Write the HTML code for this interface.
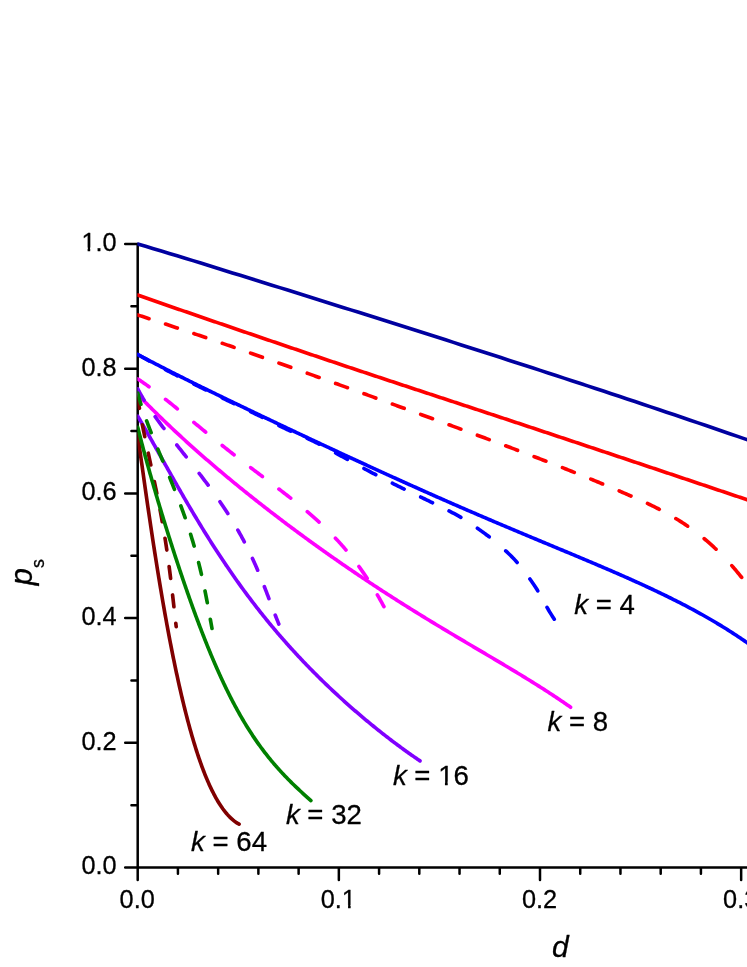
<!DOCTYPE html>
<html lang="en"><head><meta charset="utf-8"><title>p_s vs d</title>
<style>html,body{margin:0;padding:0;background:#fff;}body{width:747px;height:967px;position:relative;overflow:hidden;font-family:"Liberation Sans",sans-serif;}</style></head>
<body>
<svg width="747" height="967" viewBox="0 0 747 967" style="position:absolute;left:0;top:0;will-change:transform">
<defs><clipPath id="c"><rect x="137.40" y="0" width="747" height="967"/></clipPath></defs>
<path d="M137.7,244.00 L137.7,867.5 M137.7,867.5 L752,867.5 M137.7,867.50 h-12.5 M137.7,805.15 h-6.25 M137.7,742.80 h-12.5 M137.7,680.45 h-6.25 M137.7,618.10 h-12.5 M137.7,555.75 h-6.25 M137.7,493.40 h-12.5 M137.7,431.05 h-6.25 M137.7,368.70 h-12.5 M137.7,306.35 h-6.25 M137.7,244.00 h-12.5 M137.70,867.5 v12.5 M177.93,867.5 v6.25 M218.16,867.5 v6.25 M258.39,867.5 v6.25 M298.62,867.5 v6.25 M338.85,867.5 v12.5 M379.08,867.5 v6.25 M419.31,867.5 v6.25 M459.54,867.5 v6.25 M499.77,867.5 v6.25 M540.00,867.5 v12.5 M580.23,867.5 v6.25 M620.46,867.5 v6.25 M660.69,867.5 v6.25 M700.92,867.5 v6.25 M741.15,867.5 v12.5 M781.38,867.5 v6.25" fill="none" stroke="#000" stroke-width="2.5" stroke-linecap="round"/>
<g clip-path="url(#c)" fill="none" stroke-linecap="round" stroke-linejoin="round" stroke-width="3.65">
<path d="M137.70,244.00 L145.59,246.35 L153.49,248.70 L161.38,251.05 L169.27,253.40 L177.17,255.74 L185.06,258.18 L192.95,260.63 L200.85,263.08 L208.74,265.53 L216.63,267.98 L224.53,270.43 L232.42,272.89 L240.31,275.34 L248.21,277.80 L256.10,280.25 L263.99,282.71 L271.88,285.17 L279.78,287.63 L287.67,290.09 L295.56,292.56 L303.46,295.03 L311.35,297.49 L319.24,299.97 L327.14,302.44 L335.03,304.91 L342.92,307.39 L350.82,309.87 L358.71,312.35 L366.60,314.84 L374.50,317.33 L382.39,319.82 L390.28,322.31 L398.18,324.81 L406.07,327.31 L413.96,329.81 L421.86,332.32 L429.75,334.83 L437.64,337.34 L445.54,339.86 L453.43,342.38 L461.32,344.90 L469.22,347.43 L477.11,349.96 L485.00,352.50 L492.90,355.04 L500.79,357.59 L508.68,360.14 L516.57,362.69 L524.47,365.25 L532.36,367.81 L540.25,370.38 L548.15,372.95 L556.04,375.53 L563.93,378.11 L571.83,380.70 L579.72,383.29 L587.61,385.89 L595.51,388.49 L603.40,391.10 L611.29,393.72 L619.19,396.34 L627.08,398.96 L634.97,401.60 L642.87,404.23 L650.76,406.88 L658.65,409.53 L666.55,412.18 L674.44,414.85 L682.33,417.52 L690.23,420.19 L698.12,422.88 L706.01,425.56 L713.91,428.26 L721.80,430.96 L729.69,433.67 L737.59,436.39 L745.48,439.12 L753.37,441.85 L761.26,444.59" stroke="#0000a0"/>
<path d="M137.70,295.10 L139.12,295.59 L140.54,296.09 L141.97,296.58 L143.39,297.08 L144.81,297.57 L146.23,298.07 L147.66,298.56 L149.08,299.05 L150.50,299.55 L151.92,300.04 L153.35,300.53 L154.77,301.03 L156.19,301.52 L157.61,302.01 L159.04,302.51 L160.46,303.00 L161.88,303.49 L163.31,303.98 L164.73,304.48 L166.15,304.97 L167.57,305.46 L169.00,305.95 L170.42,306.45 L171.84,306.94 L173.27,307.43 L174.69,307.92 L176.11,308.41 L177.54,308.91 L178.96,309.40 L180.38,309.89 L181.80,310.38 L183.23,310.87 L184.65,311.36 L186.07,311.85 L187.50,312.34 L188.92,312.84 L190.35,313.33 L191.77,313.82 L193.19,314.31 L194.62,314.80 L196.04,315.29 L197.46,315.78 L198.89,316.27 L200.31,316.76 L201.73,317.25 L203.16,317.74 L204.58,318.23 L206.01,318.72 L207.43,319.21 L208.85,319.70 L210.28,320.19 L211.70,320.67 L213.13,321.16 L214.55,321.65 L215.97,322.14 L217.40,322.63 L218.82,323.12 L220.25,323.61 L221.67,324.10 L223.09,324.58 L224.52,325.07 L225.94,325.56 L227.37,326.05 L228.79,326.54 L230.22,327.02 L231.64,327.51 L233.07,328.00 L234.49,328.49 L235.91,328.97 L237.34,329.46 L238.76,329.95 L240.19,330.44 L241.61,330.92 L243.04,331.41 L244.46,331.90 L245.89,332.38 L247.31,332.87 L248.74,333.36 L250.16,333.84 L251.59,334.33 L253.01,334.81 L254.44,335.30 L255.86,335.79 L257.29,336.27 L258.71,336.76 L260.14,337.24 L261.56,337.73 L262.99,338.21 L264.41,338.70 L265.84,339.19 L267.26,339.67 L268.69,340.16 L270.12,340.64 L271.54,341.12 L272.97,341.61 L274.39,342.09 L275.82,342.58 L277.24,343.06 L278.67,343.55 L280.09,344.03 L281.52,344.51 L282.95,345.00 L284.37,345.48 L285.80,345.97 L287.22,346.45 L288.65,346.93 L290.08,347.42 L291.50,347.90 L292.93,348.38 L294.35,348.87 L295.78,349.35 L297.21,349.83 L298.63,350.31 L300.06,350.80 L301.48,351.28 L302.91,351.76 L304.34,352.24 L305.76,352.73 L307.19,353.21 L308.62,353.69 L310.04,354.17 L311.47,354.65 L312.90,355.13 L314.32,355.62 L315.75,356.10 L317.18,356.58 L318.60,357.06 L320.03,357.54 L321.46,358.02 L322.88,358.50 L324.31,358.98 L325.74,359.46 L327.16,359.94 L328.59,360.43 L330.02,360.91 L331.44,361.39 L332.87,361.87 L334.30,362.35 L335.72,362.82 L337.15,363.30 L338.58,363.78 L340.01,364.26 L341.43,364.74 L342.86,365.22 L344.29,365.70 L345.72,366.17 L347.15,366.65 L348.57,367.13 L350.00,367.61 L351.43,368.08 L352.86,368.56 L354.29,369.04 L355.71,369.51 L357.14,369.99 L358.57,370.47 L360.00,370.94 L361.43,371.42 L362.86,371.89 L364.28,372.37 L365.71,372.84 L367.14,373.32 L368.57,373.80 L370.00,374.27 L371.43,374.74 L372.86,375.22 L374.29,375.69 L375.71,376.17 L377.14,376.64 L378.57,377.12 L380.00,377.59 L381.43,378.06 L382.86,378.54 L384.29,379.01 L385.72,379.48 L387.15,379.96 L388.58,380.43 L390.01,380.90 L391.44,381.38 L392.87,381.85 L394.30,382.32 L395.73,382.79 L397.15,383.27 L398.58,383.74 L400.01,384.21 L401.44,384.68 L402.87,385.15 L404.30,385.63 L405.73,386.10 L407.16,386.57 L408.59,387.04 L410.02,387.51 L411.45,387.98 L412.88,388.46 L414.31,388.93 L415.74,389.40 L417.17,389.87 L418.60,390.34 L420.03,390.81 L421.46,391.28 L422.89,391.75 L424.32,392.23 L425.75,392.70 L427.18,393.17 L428.61,393.64 L430.04,394.11 L431.47,394.58 L432.90,395.05 L434.33,395.52 L435.76,395.99 L437.19,396.46 L438.63,396.93 L440.06,397.40 L441.49,397.87 L442.92,398.34 L444.35,398.82 L445.78,399.29 L447.21,399.76 L448.64,400.23 L450.07,400.70 L451.50,401.17 L452.93,401.64 L454.36,402.11 L455.79,402.58 L457.22,403.05 L458.65,403.52 L460.08,403.99 L461.51,404.46 L462.94,404.93 L464.37,405.40 L465.80,405.88 L467.23,406.35 L468.66,406.82 L470.09,407.29 L471.52,407.76 L472.95,408.23 L474.38,408.70 L475.81,409.17 L477.24,409.64 L478.67,410.11 L480.10,410.59 L481.53,411.06 L482.96,411.53 L484.39,412.00 L485.82,412.47 L487.25,412.94 L488.68,413.42 L490.11,413.89 L491.54,414.36 L492.97,414.83 L494.40,415.30 L495.83,415.78 L497.26,416.25 L498.69,416.72 L500.12,417.19 L501.55,417.66 L502.98,418.14 L504.41,418.61 L505.84,419.08 L507.27,419.56 L508.69,420.03 L510.12,420.50 L511.55,420.98 L512.98,421.45 L514.41,421.92 L515.84,422.40 L517.27,422.87 L518.70,423.35 L520.13,423.82 L521.56,424.29 L522.99,424.77 L524.42,425.24 L525.84,425.72 L527.27,426.19 L528.70,426.67 L530.13,427.14 L531.56,427.62 L532.99,428.09 L534.42,428.57 L535.84,429.04 L537.27,429.52 L538.70,430.00 L540.13,430.47 L541.56,430.95 L542.99,431.42 L544.42,431.90 L545.84,432.37 L547.27,432.85 L548.70,433.32 L550.13,433.80 L551.56,434.28 L552.99,434.75 L554.42,435.23 L555.84,435.70 L557.27,436.18 L558.70,436.65 L560.13,437.13 L561.56,437.61 L562.99,438.08 L564.42,438.56 L565.84,439.03 L567.27,439.51 L568.70,439.99 L570.13,440.46 L571.56,440.94 L572.99,441.41 L574.41,441.89 L575.84,442.37 L577.27,442.84 L578.70,443.32 L580.13,443.79 L581.56,444.27 L582.98,444.75 L584.41,445.22 L585.84,445.70 L587.27,446.18 L588.70,446.65 L590.13,447.13 L591.55,447.61 L592.98,448.08 L594.41,448.56 L595.84,449.03 L597.27,449.51 L598.70,449.99 L600.12,450.46 L601.55,450.94 L602.98,451.42 L604.41,451.89 L605.84,452.37 L607.27,452.85 L608.69,453.32 L610.12,453.80 L611.55,454.28 L612.98,454.75 L614.41,455.23 L615.83,455.71 L617.26,456.19 L618.69,456.66 L620.12,457.14 L621.55,457.62 L622.97,458.09 L624.40,458.57 L625.83,459.05 L627.26,459.52 L628.69,460.00 L630.11,460.48 L631.54,460.96 L632.97,461.43 L634.40,461.91 L635.83,462.39 L637.25,462.87 L638.68,463.34 L640.11,463.82 L641.54,464.30 L642.97,464.78 L644.39,465.25 L645.82,465.73 L647.25,466.21 L648.68,466.69 L650.11,467.16 L651.53,467.64 L652.96,468.12 L654.39,468.60 L655.82,469.08 L657.24,469.55 L658.67,470.03 L660.10,470.51 L661.53,470.99 L662.96,471.47 L664.38,471.94 L665.81,472.42 L667.24,472.90 L668.67,473.38 L670.09,473.86 L671.52,474.34 L672.95,474.81 L674.38,475.29 L675.80,475.77 L677.23,476.25 L678.66,476.73 L680.09,477.21 L681.51,477.69 L682.94,478.16 L684.37,478.64 L685.80,479.12 L687.22,479.60 L688.65,480.08 L690.08,480.56 L691.51,481.04 L692.93,481.52 L694.36,482.00 L695.79,482.47 L697.22,482.95 L698.64,483.43 L700.07,483.91 L701.50,484.39 L702.93,484.87 L704.35,485.35 L705.78,485.83 L707.21,486.31 L708.64,486.79 L710.06,487.27 L711.49,487.75 L712.92,488.23 L714.34,488.71 L715.77,489.19 L717.20,489.67 L718.63,490.15 L720.05,490.63 L721.48,491.11 L722.91,491.59 L724.33,492.07 L725.76,492.55 L727.19,493.03 L728.61,493.51 L730.04,493.99 L731.47,494.47 L732.90,494.95 L734.32,495.43 L735.75,495.91 L737.18,496.39 L738.60,496.87 L740.03,497.35 L741.46,497.83 L742.88,498.31 L744.31,498.79 L745.74,499.27 L747.16,499.76 L748.59,500.24 L750.02,500.72 L751.44,501.20 L752.87,501.68 L754.30,502.17 L755.72,502.65 L757.15,503.13 L758.57,503.62 L760.00,504.10" stroke="#ff0000"/>
<path d="M137.70,314.96 L139.13,315.42 L140.56,315.89 L141.99,316.35 L143.42,316.82 L144.85,317.28 L146.28,317.75 L147.71,318.22 L149.00,318.64 M165.55,324.09 L166.29,324.34 L167.72,324.81 L169.14,325.29 L170.57,325.76 L172.00,326.24 L173.43,326.71 L174.85,327.19 L176.28,327.66 L177.35,328.02 M193.90,333.59 L194.81,333.90 L196.24,334.39 L197.66,334.87 L199.09,335.35 L200.51,335.84 L201.94,336.32 L203.36,336.81 L204.78,337.29 L205.70,337.60 M222.25,343.28 L223.28,343.64 L224.71,344.13 L226.13,344.62 L227.55,345.11 L228.97,345.60 L230.39,346.09 L231.82,346.58 L233.24,347.08 L234.05,347.36 M250.60,353.13 L251.70,353.51 L253.12,354.01 L254.54,354.51 L255.96,355.01 L257.38,355.50 L258.80,356.00 L260.22,356.50 L261.64,357.00 L262.40,357.27 M278.95,363.11 L280.08,363.51 L281.50,364.02 L282.92,364.52 L284.33,365.02 L285.75,365.53 L287.17,366.03 L288.59,366.54 L290.00,367.04 L290.75,367.31 M307.30,373.22 L308.42,373.62 L309.84,374.13 L311.25,374.64 L312.67,375.14 L314.08,375.65 L315.50,376.16 L316.92,376.67 L318.33,377.18 L319.10,377.46 M335.65,383.42 L336.73,383.81 L338.14,384.32 L339.56,384.84 L340.97,385.35 L342.39,385.86 L343.80,386.37 L345.22,386.88 L346.63,387.40 L347.45,387.69 M364.00,393.70 L365.01,394.07 L366.43,394.58 L367.84,395.10 L369.25,395.61 L370.67,396.13 L372.08,396.64 L373.50,397.16 L374.91,397.67 L375.80,398.00 M392.35,404.03 L393.28,404.37 L394.69,404.89 L396.11,405.41 L397.52,405.92 L398.93,406.44 L400.35,406.95 L401.76,407.47 L403.17,407.99 L404.15,408.34 M420.70,414.40 L421.54,414.70 L422.95,415.22 L424.36,415.74 L425.78,416.26 L427.19,416.77 L428.60,417.29 L430.02,417.81 L431.43,418.32 L432.50,418.72 M449.05,424.78 L449.79,425.05 L451.20,425.57 L452.62,426.09 L454.03,426.61 L455.44,427.13 L456.85,427.64 L458.26,428.16 L459.68,428.68 L460.85,429.11 M477.40,435.22 L478.02,435.45 L479.43,435.98 L480.84,436.50 L482.26,437.02 L483.67,437.55 L485.08,438.07 L486.49,438.59 L487.90,439.12 L489.20,439.61 M505.75,445.80 L506.21,445.98 L507.62,446.51 L509.03,447.04 L510.43,447.57 L511.84,448.10 L513.25,448.63 L514.66,449.16 L516.06,449.70 L517.47,450.23 L517.55,450.26 M534.10,456.59 L534.33,456.68 L535.73,457.22 L537.14,457.76 L538.54,458.30 L539.94,458.84 L541.35,459.39 L542.75,459.93 L544.15,460.48 L545.55,461.02 L545.90,461.16 M562.45,467.66 L563.76,468.17 L565.15,468.73 L566.55,469.29 L567.95,469.84 L569.35,470.40 L570.74,470.96 L572.14,471.52 L573.54,472.08 L574.25,472.36 M590.80,479.08 L591.66,479.43 L593.05,480.00 L594.44,480.58 L595.83,481.15 L597.22,481.73 L598.61,482.30 L600.00,482.88 L601.39,483.45 L602.60,483.96 M619.15,490.93 L619.41,491.05 L620.80,491.64 L622.18,492.23 L623.56,492.82 L624.95,493.42 L626.33,494.01 L627.71,494.61 L629.09,495.20 L630.47,495.80 L630.95,496.01 M647.50,503.48 L648.29,503.86 L649.65,504.50 L651.00,505.15 L652.36,505.81 L653.71,506.48 L655.05,507.14 L656.40,507.82 L657.74,508.50 L659.08,509.19 L659.30,509.30 M675.85,518.55 L676.15,518.72 L677.43,519.51 L678.71,520.30 L679.98,521.10 L681.25,521.91 L682.52,522.73 L683.77,523.55 L685.03,524.38 L686.27,525.22 L687.52,526.07 L687.65,526.16 M704.20,538.68 L704.31,538.77 L705.46,539.74 L706.61,540.71 L707.75,541.69 L708.89,542.68 L710.01,543.67 L711.14,544.68 L712.25,545.69 L713.36,546.70 L714.46,547.73 L715.56,548.76 L716.00,549.17 M731.80,565.61 L732.23,566.10 L733.22,567.24 L734.20,568.38 L735.18,569.52 L736.15,570.67 L737.11,571.83 L738.07,572.99 L739.02,574.15 L739.97,575.32 L740.91,576.49 L741.64,577.41" stroke="#ff0000"/>
<path d="M137.70,354.50 L139.03,355.21 L140.36,355.91 L141.69,356.62 L143.02,357.32 L144.35,358.03 L145.68,358.73 L147.01,359.43 L148.34,360.13 L149.68,360.82 L151.01,361.52 L152.34,362.22 L153.68,362.91 L155.01,363.60 L156.35,364.29 L157.69,364.99 L159.02,365.67 L160.36,366.36 L161.70,367.05 L163.04,367.74 L164.38,368.42 L165.72,369.11 L167.06,369.79 L168.40,370.47 L169.74,371.15 L171.08,371.84 L172.43,372.52 L173.77,373.19 L175.11,373.87 L176.46,374.55 L177.80,375.23 L179.15,375.90 L180.49,376.58 L181.84,377.25 L183.18,377.92 L184.53,378.60 L185.87,379.27 L187.22,379.94 L188.57,380.61 L189.92,381.28 L191.26,381.95 L192.61,382.61 L193.96,383.28 L195.31,383.95 L196.66,384.61 L198.01,385.28 L199.36,385.95 L200.71,386.61 L202.06,387.27 L203.41,387.94 L204.76,388.60 L206.11,389.26 L207.46,389.92 L208.81,390.58 L210.17,391.24 L211.52,391.90 L212.87,392.56 L214.22,393.22 L215.58,393.88 L216.93,394.54 L218.28,395.20 L219.64,395.85 L220.99,396.51 L222.35,397.17 L223.70,397.82 L225.05,398.48 L226.41,399.13 L227.76,399.79 L229.12,400.44 L230.47,401.09 L231.83,401.75 L233.19,402.40 L234.54,403.05 L235.90,403.71 L237.25,404.36 L238.61,405.01 L239.97,405.66 L241.32,406.31 L242.68,406.96 L244.04,407.61 L245.39,408.26 L246.75,408.91 L248.11,409.56 L249.47,410.21 L250.82,410.86 L252.18,411.51 L253.54,412.16 L254.90,412.80 L256.26,413.45 L257.61,414.10 L258.97,414.75 L260.33,415.39 L261.69,416.04 L263.05,416.69 L264.41,417.33 L265.77,417.98 L267.12,418.63 L268.48,419.27 L269.84,419.92 L271.20,420.56 L272.56,421.21 L273.92,421.85 L275.28,422.50 L276.64,423.14 L278.00,423.78 L279.36,424.43 L280.72,425.07 L282.08,425.71 L283.44,426.36 L284.80,427.00 L286.16,427.64 L287.52,428.28 L288.88,428.93 L290.25,429.57 L291.61,430.21 L292.97,430.85 L294.33,431.49 L295.69,432.14 L297.05,432.78 L298.41,433.42 L299.77,434.06 L301.14,434.70 L302.50,435.34 L303.86,435.98 L305.22,436.62 L306.58,437.26 L307.95,437.90 L309.31,438.54 L310.67,439.17 L312.03,439.81 L313.39,440.45 L314.76,441.09 L316.12,441.73 L317.48,442.37 L318.85,443.00 L320.21,443.64 L321.57,444.28 L322.94,444.92 L324.30,445.55 L325.66,446.19 L327.03,446.82 L328.39,447.46 L329.75,448.10 L331.12,448.73 L332.48,449.37 L333.85,450.00 L335.21,450.64 L336.57,451.27 L337.94,451.91 L339.30,452.54 L340.67,453.17 L342.03,453.81 L343.40,454.44 L344.76,455.07 L346.13,455.71 L347.49,456.34 L348.86,456.97 L350.22,457.60 L351.59,458.23 L352.96,458.87 L354.32,459.50 L355.69,460.13 L357.05,460.76 L358.42,461.39 L359.79,462.02 L361.15,462.65 L362.52,463.28 L363.89,463.91 L365.25,464.53 L366.62,465.16 L367.99,465.79 L369.36,466.42 L370.72,467.05 L372.09,467.67 L373.46,468.30 L374.83,468.93 L376.20,469.55 L377.57,470.18 L378.93,470.80 L380.30,471.43 L381.67,472.05 L383.04,472.68 L384.41,473.30 L385.78,473.92 L387.15,474.55 L388.52,475.17 L389.89,475.79 L391.26,476.42 L392.63,477.04 L394.00,477.66 L395.37,478.28 L396.74,478.90 L398.11,479.52 L399.48,480.14 L400.85,480.76 L402.23,481.38 L403.60,482.00 L404.97,482.61 L406.34,483.23 L407.71,483.85 L409.09,484.47 L410.46,485.08 L411.83,485.70 L413.21,486.31 L414.58,486.93 L415.95,487.54 L417.33,488.16 L418.70,488.77 L420.07,489.38 L421.45,490.00 L422.82,490.61 L424.20,491.22 L425.57,491.83 L426.95,492.44 L428.32,493.06 L429.70,493.67 L431.07,494.28 L432.45,494.88 L433.82,495.49 L435.20,496.10 L436.58,496.71 L437.95,497.32 L439.33,497.92 L440.71,498.53 L442.09,499.14 L443.46,499.74 L444.84,500.35 L446.22,500.95 L447.60,501.56 L448.98,502.16 L450.35,502.76 L451.73,503.36 L453.11,503.97 L454.49,504.57 L455.87,505.17 L457.25,505.77 L458.63,506.37 L460.01,506.97 L461.39,507.57 L462.77,508.17 L464.15,508.77 L465.53,509.36 L466.91,509.96 L468.29,510.56 L469.68,511.16 L471.06,511.75 L472.44,512.35 L473.82,512.94 L475.20,513.54 L476.59,514.13 L477.97,514.72 L479.35,515.32 L480.73,515.91 L482.12,516.50 L483.50,517.09 L484.88,517.69 L486.27,518.28 L487.65,518.87 L489.04,519.46 L490.42,520.05 L491.81,520.64 L493.19,521.22 L494.57,521.81 L495.96,522.40 L497.35,522.99 L498.73,523.58 L500.12,524.16 L501.50,524.75 L502.89,525.34 L504.27,525.92 L505.66,526.51 L507.05,527.09 L508.43,527.68 L509.82,528.26 L511.21,528.84 L512.59,529.43 L513.98,530.01 L515.37,530.59 L516.76,531.18 L518.14,531.76 L519.53,532.34 L520.92,532.92 L522.31,533.50 L523.69,534.08 L525.08,534.67 L526.47,535.25 L527.86,535.83 L529.25,536.41 L530.63,536.99 L532.02,537.57 L533.41,538.15 L534.80,538.73 L536.19,539.30 L537.58,539.88 L538.97,540.46 L540.36,541.04 L541.75,541.62 L543.13,542.20 L544.52,542.78 L545.91,543.36 L547.30,543.93 L548.69,544.51 L550.08,545.09 L551.47,545.67 L552.86,546.25 L554.25,546.83 L555.64,547.40 L557.03,547.98 L558.41,548.56 L559.80,549.14 L561.19,549.72 L562.58,550.30 L563.97,550.88 L565.36,551.46 L566.75,552.03 L568.14,552.61 L569.53,553.19 L570.91,553.77 L572.30,554.35 L573.69,554.93 L575.08,555.51 L576.47,556.10 L577.85,556.68 L579.24,557.26 L580.63,557.84 L582.02,558.42 L583.40,559.01 L584.79,559.59 L586.18,560.17 L587.56,560.76 L588.95,561.34 L590.34,561.93 L591.72,562.51 L593.11,563.10 L594.49,563.69 L595.88,564.27 L597.27,564.86 L598.65,565.45 L600.03,566.04 L601.42,566.63 L602.80,567.22 L604.19,567.81 L605.57,568.41 L606.95,569.00 L608.33,569.60 L609.71,570.19 L611.10,570.79 L612.48,571.38 L613.86,571.98 L615.24,572.58 L616.62,573.18 L618.00,573.78 L619.38,574.39 L620.75,574.99 L622.13,575.59 L623.51,576.20 L624.89,576.81 L626.26,577.42 L627.64,578.03 L629.01,578.64 L630.39,579.25 L631.76,579.86 L633.13,580.48 L634.51,581.10 L635.88,581.71 L637.25,582.33 L638.62,582.95 L639.99,583.58 L641.36,584.20 L642.73,584.83 L644.10,585.46 L645.46,586.09 L646.83,586.72 L648.19,587.35 L649.56,587.98 L650.92,588.62 L652.28,589.26 L653.64,589.90 L655.01,590.54 L656.37,591.19 L657.72,591.83 L659.08,592.48 L660.44,593.13 L661.79,593.78 L663.15,594.44 L664.50,595.10 L665.86,595.76 L667.21,596.42 L668.56,597.08 L669.91,597.75 L671.25,598.42 L672.60,599.09 L673.95,599.76 L675.29,600.44 L676.63,601.11 L677.98,601.80 L679.32,602.48 L680.66,603.16 L681.99,603.85 L683.33,604.54 L684.67,605.24 L686.00,605.94 L687.33,606.64 L688.66,607.34 L689.99,608.04 L691.32,608.75 L692.64,609.46 L693.97,610.18 L695.29,610.89 L696.61,611.61 L697.93,612.34 L699.25,613.06 L700.57,613.79 L701.88,614.52 L703.19,615.26 L704.51,616.00 L705.81,616.74 L707.12,617.49 L708.43,618.23 L709.73,618.99 L711.03,619.74 L712.33,620.50 L713.63,621.26 L714.93,622.03 L716.22,622.79 L717.51,623.57 L718.80,624.34 L720.09,625.12 L721.37,625.90 L722.66,626.69 L723.94,627.48 L725.21,628.27 L726.49,629.07 L727.77,629.87 L729.04,630.67 L730.31,631.48 L731.57,632.29 L732.84,633.11 L734.10,633.93 L735.36,634.75 L736.62,635.58 L737.87,636.41 L739.12,637.24 L740.37,638.08 L741.62,638.92 L742.87,639.77 L744.11,640.62 L745.35,641.47 L746.58,642.33 L747.82,643.19 L749.05,644.06 L750.28,644.93 L751.50,645.80 L752.72,646.68 L753.94,647.56 L755.16,648.44 L756.38,649.33 L757.59,650.22 L758.79,651.12 L760.00,652.02" stroke="#0000ff"/>
<path d="M137.70,354.50 L139.01,355.24 L140.32,355.98 L141.64,356.72 L142.95,357.46 L144.26,358.20 L145.58,358.93 L146.89,359.67 L148.21,360.40 L149.00,360.84 M165.55,369.72 L166.80,370.37 L168.14,371.05 L169.48,371.74 L170.82,372.43 L172.16,373.11 L173.51,373.80 L174.85,374.48 L176.19,375.16 L177.35,375.75 M193.90,384.03 L195.05,384.60 L196.40,385.27 L197.75,385.94 L199.10,386.61 L200.46,387.27 L201.81,387.94 L203.16,388.61 L204.51,389.27 L205.70,389.85 M222.25,397.93 L223.47,398.52 L224.82,399.18 L226.18,399.83 L227.54,400.49 L228.89,401.15 L230.25,401.80 L231.60,402.46 L232.96,403.12 L234.05,403.64 M250.60,411.62 L250.60,411.62 L251.96,412.27 L253.32,412.93 L254.68,413.58 L256.04,414.23 L257.39,414.88 L258.75,415.54 L260.11,416.19 L261.47,416.85 L262.40,417.30 M278.95,425.56 L278.99,425.59 L280.35,426.25 L281.70,426.91 L283.06,427.57 L284.42,428.22 L285.78,428.86 L287.14,429.50 L288.51,430.13 L289.88,430.75 L290.75,431.14 M307.30,438.46 L307.79,438.68 L309.17,439.30 L310.54,439.93 L311.90,440.56 L313.27,441.19 L314.63,441.84 L315.98,442.50 L317.33,443.17 L318.68,443.85 L319.10,444.06 M335.65,453.00 L335.92,453.14 L337.24,453.87 L338.56,454.59 L339.89,455.31 L341.21,456.02 L342.54,456.73 L343.87,457.45 L345.19,458.17 L346.51,458.89 L347.45,459.40 M364.00,468.48 L365.01,469.03 L366.34,469.74 L367.66,470.46 L368.99,471.16 L370.33,471.87 L371.66,472.57 L373.00,473.27 L374.33,473.96 L375.67,474.66 L375.80,474.73 M392.35,483.22 L393.10,483.59 L394.44,484.27 L395.79,484.94 L397.14,485.62 L398.49,486.29 L399.84,486.95 L401.19,487.62 L402.55,488.28 L403.90,488.94 L404.15,489.06 M420.70,497.02 L421.55,497.43 L422.91,498.08 L424.26,498.74 L425.62,499.40 L426.97,500.06 L428.33,500.72 L429.68,501.38 L431.04,502.04 L432.39,502.70 L432.50,502.75 M449.05,510.96 L449.93,511.41 L451.27,512.10 L452.61,512.79 L453.95,513.49 L455.28,514.19 L456.61,514.90 L457.93,515.63 L459.24,516.37 L460.54,517.13 L460.85,517.32 M477.40,528.24 L478.13,528.75 L479.36,529.63 L480.59,530.50 L481.81,531.38 L483.04,532.26 L484.26,533.14 L485.47,534.03 L486.68,534.93 L487.89,535.83 L489.09,536.75 L489.20,536.83 M505.75,550.87 L506.29,551.38 L507.39,552.42 L508.48,553.46 L509.56,554.50 L510.64,555.56 L511.71,556.62 L512.77,557.69 L513.81,558.78 L514.83,559.89 L515.84,561.00 L516.84,562.13 L517.12,562.46 M529.90,579.01 L530.62,580.03 L531.49,581.26 L532.35,582.50 L533.21,583.74 L534.06,584.98 L534.90,586.23 L535.72,587.49 L536.52,588.77 L537.31,590.06 L537.75,590.81 M547.03,607.36 L547.64,608.44 L548.40,609.75 L549.16,611.05 L549.93,612.34 L550.72,613.62 L551.52,614.90 L552.33,616.17 L553.15,617.43 L553.97,618.70 L554.28,619.16" stroke="#0000ff"/>
<path d="M137.70,394.40 L138.74,395.48 L139.79,396.57 L140.83,397.65 L141.88,398.73 L142.93,399.80 L143.98,400.88 L145.04,401.95 L146.09,403.03 L147.15,404.10 L148.21,405.17 L149.27,406.24 L150.33,407.30 L151.40,408.36 L152.46,409.43 L153.53,410.49 L154.60,411.55 L155.67,412.60 L156.75,413.66 L157.82,414.71 L158.90,415.76 L159.97,416.81 L161.05,417.86 L162.13,418.91 L163.22,419.96 L164.30,421.00 L165.39,422.04 L166.47,423.08 L167.56,424.12 L168.65,425.16 L169.75,426.19 L170.84,427.23 L171.93,428.26 L173.03,429.29 L174.13,430.32 L175.23,431.35 L176.33,432.37 L177.43,433.40 L178.54,434.42 L179.64,435.44 L180.75,436.46 L181.86,437.48 L182.97,438.50 L184.08,439.51 L185.19,440.53 L186.30,441.54 L187.42,442.55 L188.53,443.56 L189.65,444.57 L190.77,445.57 L191.89,446.58 L193.01,447.58 L194.14,448.58 L195.26,449.58 L196.39,450.58 L197.51,451.58 L198.64,452.57 L199.77,453.57 L200.90,454.56 L202.03,455.55 L203.17,456.54 L204.30,457.53 L205.43,458.52 L206.57,459.51 L207.71,460.49 L208.85,461.48 L209.99,462.46 L211.13,463.44 L212.27,464.42 L213.42,465.40 L214.56,466.38 L215.71,467.35 L216.85,468.33 L218.00,469.30 L219.15,470.27 L220.30,471.24 L221.45,472.21 L222.60,473.18 L223.76,474.14 L224.91,475.11 L226.07,476.07 L227.22,477.04 L228.38,478.00 L229.54,478.96 L230.70,479.92 L231.86,480.88 L233.02,481.83 L234.19,482.79 L235.35,483.74 L236.51,484.69 L237.68,485.65 L238.85,486.60 L240.02,487.55 L241.18,488.49 L242.35,489.44 L243.52,490.39 L244.70,491.33 L245.87,492.27 L247.04,493.22 L248.22,494.16 L249.39,495.10 L250.57,496.04 L251.74,496.97 L252.92,497.91 L254.10,498.85 L255.28,499.78 L256.46,500.71 L257.64,501.64 L258.83,502.58 L260.01,503.50 L261.20,504.43 L262.38,505.36 L263.57,506.29 L264.75,507.21 L265.94,508.14 L267.13,509.06 L268.32,509.98 L269.51,510.90 L270.70,511.82 L271.89,512.74 L273.09,513.66 L274.28,514.57 L275.48,515.49 L276.67,516.40 L277.87,517.31 L279.07,518.23 L280.26,519.14 L281.46,520.05 L282.66,520.95 L283.86,521.86 L285.07,522.77 L286.27,523.67 L287.47,524.58 L288.67,525.48 L289.88,526.38 L291.08,527.28 L292.29,528.18 L293.50,529.08 L294.71,529.98 L295.92,530.87 L297.12,531.77 L298.34,532.66 L299.55,533.56 L300.76,534.45 L301.97,535.34 L303.19,536.23 L304.40,537.12 L305.61,538.01 L306.83,538.89 L308.05,539.78 L309.26,540.66 L310.48,541.55 L311.70,542.43 L312.92,543.31 L314.14,544.19 L315.36,545.07 L316.59,545.95 L317.81,546.83 L319.03,547.70 L320.26,548.58 L321.48,549.45 L322.71,550.32 L323.94,551.19 L325.16,552.06 L326.39,552.93 L327.62,553.80 L328.85,554.67 L330.08,555.53 L331.31,556.40 L332.55,557.26 L333.78,558.13 L335.01,558.99 L336.25,559.85 L337.48,560.71 L338.72,561.57 L339.96,562.42 L341.19,563.28 L342.43,564.14 L343.67,564.99 L344.91,565.84 L346.15,566.69 L347.39,567.54 L348.64,568.39 L349.88,569.24 L351.12,570.09 L352.37,570.94 L353.61,571.78 L354.86,572.63 L356.10,573.47 L357.35,574.31 L358.60,575.15 L359.85,575.99 L361.10,576.83 L362.35,577.67 L363.60,578.50 L364.85,579.34 L366.10,580.17 L367.36,581.01 L368.61,581.84 L369.87,582.67 L371.12,583.50 L372.38,584.33 L373.64,585.16 L374.89,585.98 L376.15,586.81 L377.41,587.63 L378.67,588.45 L379.93,589.28 L381.19,590.10 L382.45,590.92 L383.72,591.74 L384.98,592.56 L386.24,593.37 L387.51,594.19 L388.77,595.00 L390.04,595.82 L391.31,596.63 L392.57,597.44 L393.84,598.25 L395.11,599.06 L396.38,599.87 L397.65,600.68 L398.92,601.48 L400.19,602.29 L401.46,603.09 L402.74,603.89 L404.01,604.70 L405.28,605.50 L406.56,606.30 L407.83,607.10 L409.11,607.90 L410.39,608.69 L411.66,609.49 L412.94,610.29 L414.22,611.08 L415.50,611.87 L416.78,612.67 L418.06,613.46 L419.34,614.25 L420.62,615.04 L421.90,615.83 L423.18,616.61 L424.46,617.40 L425.75,618.19 L427.03,618.97 L428.32,619.76 L429.60,620.54 L430.89,621.32 L432.17,622.11 L433.46,622.89 L434.74,623.67 L436.03,624.45 L437.32,625.23 L438.61,626.01 L439.90,626.78 L441.19,627.56 L442.47,628.34 L443.76,629.11 L445.05,629.89 L446.34,630.66 L447.64,631.43 L448.93,632.21 L450.22,632.98 L451.51,633.75 L452.80,634.52 L454.10,635.29 L455.39,636.06 L456.68,636.83 L457.98,637.60 L459.27,638.37 L460.56,639.14 L461.86,639.91 L463.15,640.68 L464.45,641.44 L465.74,642.21 L467.04,642.98 L468.33,643.74 L469.63,644.51 L470.92,645.27 L472.22,646.04 L473.51,646.81 L474.81,647.57 L476.10,648.34 L477.40,649.10 L478.70,649.87 L479.99,650.63 L481.29,651.40 L482.58,652.16 L483.88,652.93 L485.18,653.69 L486.47,654.46 L487.77,655.22 L489.06,655.99 L490.36,656.76 L491.65,657.52 L492.95,658.29 L494.24,659.06 L495.54,659.82 L496.83,660.59 L498.13,661.36 L499.42,662.13 L500.71,662.90 L502.01,663.67 L503.30,664.44 L504.59,665.21 L505.88,665.98 L507.18,666.75 L508.47,667.52 L509.76,668.30 L511.05,669.07 L512.34,669.85 L513.63,670.62 L514.92,671.40 L516.20,672.18 L517.49,672.96 L518.78,673.74 L520.06,674.52 L521.35,675.30 L522.63,676.09 L523.92,676.87 L525.20,677.66 L526.48,678.45 L527.77,679.24 L529.05,680.03 L530.33,680.82 L531.60,681.61 L532.88,682.41 L534.16,683.20 L535.43,684.00 L536.71,684.80 L537.98,685.61 L539.25,686.41 L540.53,687.21 L541.80,688.02 L543.07,688.83 L544.33,689.64 L545.60,690.46 L546.86,691.27 L548.13,692.09 L549.39,692.91 L550.65,693.73 L551.91,694.55 L553.17,695.38 L554.42,696.21 L555.68,697.04 L556.93,697.87 L558.18,698.71 L559.43,699.55 L560.68,700.39 L561.93,701.23 L563.17,702.08 L564.42,702.93 L565.66,703.78 L566.89,704.63 L568.13,705.49 L569.37,706.35 L570.60,707.21" stroke="#ff00ff"/>
<path d="M137.70,378.91 L138.96,379.74 L140.22,380.58 L141.47,381.43 L142.72,382.28 L143.96,383.14 L145.20,384.01 L146.43,384.88 L147.66,385.76 L148.89,386.65 L149.00,386.73 M165.55,399.33 L165.73,399.47 L166.91,400.40 L168.10,401.35 L169.28,402.29 L170.46,403.23 L171.63,404.18 L172.81,405.13 L173.99,406.08 L175.16,407.03 L176.34,407.98 L177.35,408.81 M193.90,422.40 L195.03,423.33 L196.20,424.29 L197.37,425.25 L198.53,426.21 L199.70,427.17 L200.87,428.13 L202.04,429.09 L203.21,430.05 L204.38,431.01 L205.55,431.97 L205.70,432.09 M222.25,445.48 L223.18,446.22 L224.36,447.16 L225.55,448.10 L226.73,449.04 L227.92,449.98 L229.10,450.92 L230.29,451.85 L231.48,452.79 L232.67,453.72 L233.86,454.65 L234.05,454.80 M250.60,467.58 L250.61,467.58 L251.81,468.50 L253.02,469.42 L254.22,470.33 L255.42,471.25 L256.63,472.16 L257.83,473.07 L259.04,473.98 L260.24,474.90 L261.45,475.81 L262.40,476.53 M278.95,489.06 L279.52,489.50 L280.73,490.42 L281.93,491.34 L283.12,492.26 L284.32,493.18 L285.52,494.11 L286.71,495.03 L287.91,495.96 L289.10,496.89 L290.29,497.82 L290.75,498.19 M307.30,511.65 L307.87,512.14 L309.02,513.12 L310.17,514.10 L311.31,515.09 L312.45,516.09 L313.59,517.09 L314.72,518.09 L315.85,519.10 L316.97,520.11 L318.09,521.12 L319.10,522.05 M335.46,538.18 L336.38,539.17 L337.41,540.27 L338.43,541.39 L339.45,542.51 L340.46,543.63 L341.46,544.76 L342.46,545.89 L343.46,547.03 L344.44,548.18 L345.42,549.33 L345.98,549.98 M358.95,566.53 L359.41,567.17 L360.30,568.40 L361.17,569.63 L362.04,570.86 L362.91,572.10 L363.77,573.35 L364.62,574.59 L365.47,575.85 L366.31,577.10 L367.12,578.33 M377.36,594.88 L377.48,595.08 L378.23,596.39 L378.98,597.70 L379.73,599.01 L380.47,600.33 L381.20,601.65 L381.93,602.98 L382.66,604.30 L383.38,605.63 L383.94,606.68" stroke="#ff00ff"/>
<path d="M137.70,416.12 L138.46,417.42 L139.22,418.72 L139.98,420.02 L140.74,421.32 L141.50,422.62 L142.25,423.93 L143.01,425.23 L143.76,426.54 L144.51,427.84 L145.26,429.15 L146.01,430.46 L146.75,431.77 L147.50,433.07 L148.25,434.38 L148.99,435.69 L149.73,437.00 L150.48,438.32 L151.22,439.63 L151.96,440.94 L152.70,442.25 L153.44,443.56 L154.18,444.87 L154.92,446.19 L155.66,447.50 L156.40,448.81 L157.14,450.13 L157.88,451.44 L158.62,452.75 L159.35,454.07 L160.09,455.38 L160.83,456.69 L161.57,458.01 L162.31,459.32 L163.05,460.63 L163.78,461.95 L164.52,463.26 L165.26,464.57 L166.00,465.89 L166.74,467.20 L167.48,468.51 L168.22,469.82 L168.96,471.14 L169.70,472.45 L170.44,473.76 L171.18,475.07 L171.93,476.38 L172.67,477.69 L173.41,479.00 L174.16,480.31 L174.90,481.62 L175.65,482.93 L176.39,484.24 L177.14,485.55 L177.89,486.86 L178.64,488.16 L179.39,489.47 L180.14,490.78 L180.89,492.08 L181.64,493.39 L182.40,494.69 L183.15,496.00 L183.91,497.30 L184.66,498.60 L185.42,499.91 L186.18,501.21 L186.94,502.51 L187.70,503.81 L188.46,505.11 L189.23,506.41 L189.99,507.71 L190.76,509.00 L191.53,510.30 L192.29,511.60 L193.06,512.89 L193.84,514.19 L194.61,515.48 L195.38,516.77 L196.16,518.06 L196.94,519.35 L197.71,520.64 L198.49,521.93 L199.28,523.22 L200.06,524.51 L200.84,525.79 L201.63,527.08 L202.42,528.36 L203.21,529.65 L204.00,530.93 L204.79,532.21 L205.59,533.49 L206.38,534.77 L207.18,536.05 L207.98,537.32 L208.78,538.60 L209.59,539.87 L210.39,541.15 L211.20,542.42 L212.01,543.69 L212.82,544.96 L213.63,546.23 L214.45,547.50 L215.27,548.76 L216.08,550.03 L216.91,551.29 L217.73,552.55 L218.55,553.81 L219.38,555.07 L220.21,556.33 L221.04,557.59 L221.87,558.84 L222.71,560.10 L223.54,561.35 L224.38,562.60 L225.22,563.85 L226.07,565.10 L226.91,566.35 L227.76,567.59 L228.61,568.84 L229.46,570.08 L230.32,571.32 L231.17,572.56 L232.03,573.80 L232.89,575.04 L233.76,576.27 L234.62,577.50 L235.49,578.74 L236.36,579.97 L237.23,581.19 L238.11,582.42 L238.98,583.65 L239.86,584.87 L240.74,586.09 L241.63,587.31 L242.51,588.53 L243.40,589.75 L244.29,590.96 L245.19,592.18 L246.08,593.39 L246.98,594.60 L247.88,595.80 L248.78,597.01 L249.69,598.22 L250.60,599.42 L251.51,600.62 L252.42,601.82 L253.33,603.01 L254.25,604.21 L255.17,605.40 L256.09,606.59 L257.02,607.78 L257.95,608.97 L258.88,610.16 L259.81,611.34 L260.74,612.52 L261.68,613.70 L262.62,614.88 L263.56,616.06 L264.50,617.23 L265.45,618.40 L266.40,619.57 L267.35,620.74 L268.31,621.91 L269.26,623.07 L270.22,624.23 L271.18,625.39 L272.15,626.55 L273.11,627.71 L274.08,628.86 L275.06,630.01 L276.03,631.16 L277.01,632.31 L277.98,633.45 L278.97,634.60 L279.95,635.74 L280.94,636.88 L281.92,638.02 L282.91,639.15 L283.91,640.28 L284.90,641.41 L285.90,642.54 L286.90,643.67 L287.91,644.79 L288.91,645.92 L289.92,647.04 L290.93,648.15 L291.94,649.27 L292.96,650.38 L293.97,651.50 L294.99,652.60 L296.01,653.71 L297.04,654.82 L298.07,655.92 L299.09,657.02 L300.13,658.12 L301.16,659.22 L302.19,660.31 L303.23,661.40 L304.27,662.49 L305.32,663.58 L306.36,664.66 L307.41,665.75 L308.46,666.83 L309.51,667.91 L310.56,668.98 L311.62,670.06 L312.68,671.13 L313.74,672.20 L314.80,673.27 L315.86,674.34 L316.93,675.40 L318.00,676.46 L319.07,677.52 L320.15,678.58 L321.22,679.63 L322.30,680.69 L323.38,681.74 L324.46,682.78 L325.55,683.83 L326.63,684.87 L327.72,685.92 L328.81,686.96 L329.90,687.99 L331.00,689.03 L332.10,690.06 L333.19,691.09 L334.29,692.12 L335.40,693.15 L336.50,694.17 L337.61,695.20 L338.72,696.22 L339.83,697.23 L340.94,698.25 L342.06,699.26 L343.17,700.27 L344.29,701.28 L345.41,702.29 L346.54,703.29 L347.66,704.30 L348.79,705.30 L349.92,706.29 L351.05,707.29 L352.18,708.28 L353.32,709.27 L354.45,710.26 L355.59,711.25 L356.73,712.23 L357.87,713.22 L359.02,714.20 L360.17,715.17 L361.31,716.15 L362.46,717.12 L363.62,718.09 L364.77,719.06 L365.93,720.03 L367.08,720.99 L368.24,721.95 L369.41,722.91 L370.57,723.87 L371.74,724.82 L372.90,725.78 L374.07,726.73 L375.25,727.67 L376.42,728.62 L377.59,729.56 L378.77,730.50 L379.95,731.44 L381.13,732.37 L382.32,733.31 L383.50,734.24 L384.69,735.16 L385.88,736.09 L387.07,737.01 L388.26,737.93 L389.46,738.85 L390.65,739.76 L391.85,740.68 L393.05,741.59 L394.26,742.49 L395.46,743.40 L396.67,744.30 L397.88,745.20 L399.09,746.09 L400.30,746.99 L401.52,747.88 L402.74,748.77 L403.96,749.65 L405.18,750.53 L406.40,751.41 L407.63,752.29 L408.85,753.16 L410.08,754.03 L411.32,754.90 L412.55,755.76 L413.79,756.63 L415.02,757.48 L416.27,758.34 L417.51,759.19 L418.75,760.04 L420.00,760.88" stroke="#8000ff"/>
<path d="M137.71,388.80 L138.40,390.15 L139.12,391.48 L139.84,392.82 L140.58,394.14 L141.33,395.46 L142.09,396.77 L142.86,398.08 L143.64,399.38 L144.09,400.10 M155.15,416.65 L155.42,417.03 L156.31,418.26 L157.20,419.49 L158.09,420.71 L158.99,421.93 L159.90,423.15 L160.80,424.37 L161.71,425.58 L162.63,426.79 L163.54,428.00 L163.89,428.45 M176.81,445.00 L177.54,445.93 L178.48,447.11 L179.43,448.30 L180.37,449.49 L181.32,450.68 L182.26,451.86 L183.20,453.05 L184.15,454.24 L185.09,455.42 L186.03,456.61 L186.18,456.80 M199.18,473.35 L200.07,474.51 L200.99,475.71 L201.91,476.92 L202.83,478.12 L203.75,479.33 L204.67,480.54 L205.58,481.75 L206.49,482.96 L207.40,484.18 L208.12,485.15 M219.96,501.70 L220.63,502.67 L221.48,503.93 L222.33,505.18 L223.18,506.44 L224.02,507.70 L224.86,508.97 L225.69,510.24 L226.52,511.51 L227.34,512.78 L227.80,513.50 M237.84,530.05 L238.34,530.93 L239.09,532.25 L239.83,533.57 L240.57,534.90 L241.30,536.23 L242.02,537.56 L242.74,538.90 L243.45,540.23 L244.16,541.58 L244.30,541.85 M252.45,558.40 L252.85,559.27 L253.48,560.65 L254.10,562.03 L254.72,563.41 L255.34,564.80 L255.95,566.19 L256.55,567.58 L257.15,568.97 L257.67,570.20 M264.39,586.75 L264.58,587.23 L265.13,588.64 L265.68,590.06 L266.22,591.47 L266.76,592.89 L267.30,594.31 L267.84,595.72 L268.38,597.14 L268.92,598.55 M275.24,615.10 L275.42,615.55 L275.98,616.97 L276.53,618.38 L277.09,619.78 L277.66,621.19 L278.23,622.60 L278.80,624.00" stroke="#8000ff"/>
<path d="M137.70,434.50 L137.91,435.99 L138.11,437.49 L138.32,438.98 L138.52,440.47 L138.73,441.97 L138.94,443.46 L139.14,444.95 L139.35,446.45 L139.56,447.94 L139.76,449.43 L139.97,450.93 L140.18,452.42 L140.39,453.91 L140.59,455.41 L140.80,456.90 L141.01,458.39 L141.22,459.89 L141.42,461.38 L141.63,462.87 L141.84,464.36 L142.05,465.86 L142.26,467.35 L142.47,468.84 L142.68,470.34 L142.89,471.83 L143.10,473.32 L143.31,474.82 L143.52,476.31 L143.73,477.80 L143.94,479.29 L144.15,480.79 L144.36,482.28 L144.58,483.77 L144.79,485.26 L145.00,486.76 L145.21,488.25 L145.43,489.74 L145.64,491.23 L145.85,492.73 L146.07,494.22 L146.28,495.71 L146.50,497.20 L146.71,498.70 L146.93,500.19 L147.14,501.68 L147.36,503.17 L147.58,504.66 L147.79,506.15 L148.01,507.65 L148.23,509.14 L148.45,510.63 L148.67,512.12 L148.88,513.61 L149.10,515.10 L149.32,516.60 L149.54,518.09 L149.77,519.58 L149.99,521.07 L150.21,522.56 L150.43,524.05 L150.65,525.54 L150.88,527.03 L151.10,528.53 L151.33,530.02 L151.55,531.51 L151.78,533.00 L152.00,534.49 L152.23,535.98 L152.45,537.47 L152.68,538.96 L152.91,540.45 L153.14,541.94 L153.37,543.43 L153.60,544.92 L153.83,546.41 L154.06,547.90 L154.29,549.39 L154.52,550.88 L154.75,552.37 L154.99,553.86 L155.22,555.35 L155.45,556.84 L155.69,558.33 L155.92,559.81 L156.16,561.30 L156.40,562.79 L156.63,564.28 L156.87,565.77 L157.11,567.26 L157.35,568.75 L157.59,570.23 L157.83,571.72 L158.07,573.21 L158.32,574.70 L158.56,576.19 L158.80,577.67 L159.05,579.16 L159.29,580.65 L159.54,582.14 L159.78,583.62 L160.03,585.11 L160.28,586.60 L160.53,588.09 L160.78,589.57 L161.03,591.06 L161.28,592.54 L161.53,594.03 L161.79,595.52 L162.04,597.00 L162.30,598.49 L162.55,599.97 L162.81,601.46 L163.07,602.95 L163.32,604.43 L163.58,605.92 L163.84,607.40 L164.11,608.89 L164.37,610.37 L164.63,611.86 L164.89,613.34 L165.16,614.82 L165.43,616.31 L165.69,617.79 L165.96,619.27 L166.23,620.76 L166.50,622.24 L166.77,623.72 L167.04,625.21 L167.32,626.69 L167.59,628.17 L167.86,629.65 L168.14,631.14 L168.42,632.62 L168.70,634.10 L168.98,635.58 L169.26,637.06 L169.54,638.54 L169.82,640.02 L170.11,641.50 L170.39,642.98 L170.68,644.46 L170.97,645.94 L171.26,647.42 L171.55,648.90 L171.84,650.38 L172.14,651.86 L172.43,653.34 L172.73,654.82 L173.02,656.30 L173.32,657.77 L173.62,659.25 L173.93,660.73 L174.23,662.20 L174.53,663.68 L174.84,665.16 L175.15,666.63 L175.46,668.11 L175.77,669.58 L176.08,671.06 L176.39,672.53 L176.71,674.01 L177.03,675.48 L177.35,676.95 L177.67,678.43 L177.99,679.90 L178.31,681.37 L178.64,682.84 L178.97,684.31 L179.30,685.79 L179.63,687.26 L179.96,688.73 L180.30,690.20 L180.64,691.67 L180.97,693.13 L181.32,694.60 L181.66,696.07 L182.01,697.54 L182.35,699.01 L182.70,700.47 L183.05,701.94 L183.41,703.40 L183.77,704.87 L184.12,706.33 L184.49,707.80 L184.85,709.26 L185.22,710.72 L185.58,712.18 L185.96,713.64 L186.33,715.10 L186.71,716.56 L187.09,718.02 L187.47,719.48 L187.85,720.94 L188.24,722.40 L188.63,723.85 L189.02,725.31 L189.42,726.76 L189.82,728.22 L190.22,729.67 L190.63,731.12 L191.04,732.57 L191.45,734.02 L191.87,735.47 L192.29,736.92 L192.71,738.36 L193.14,739.81 L193.57,741.25 L194.01,742.70 L194.45,744.14 L194.89,745.58 L195.34,747.02 L195.79,748.46 L196.24,749.90 L196.71,751.33 L197.17,752.77 L197.64,754.20 L198.12,755.63 L198.60,757.06 L199.08,758.48 L199.57,759.91 L200.07,761.33 L200.57,762.76 L201.08,764.18 L201.59,765.59 L202.11,767.01 L202.64,768.42 L203.17,769.83 L203.71,771.24 L204.25,772.64 L204.81,774.05 L205.37,775.45 L205.94,776.84 L206.51,778.24 L207.10,779.62 L207.69,781.01 L208.29,782.39 L208.90,783.77 L209.52,785.15 L210.15,786.52 L210.79,787.88 L211.44,789.24 L212.10,790.59 L212.78,791.94 L213.46,793.29 L214.16,794.62 L214.87,795.95 L215.59,797.28 L216.33,798.59 L217.08,799.90 L217.85,801.20 L218.63,802.48 L219.43,803.76 L220.25,805.03 L221.08,806.28 L221.94,807.53 L222.81,808.76 L223.71,809.97 L224.62,811.17 L225.56,812.34 L226.53,813.50 L227.52,814.64 L228.53,815.75 L229.58,816.84 L230.65,817.90 L231.75,818.93 L232.89,819.92 L234.06,820.87 L235.26,821.77 L236.51,822.63 L237.78,823.43 L239.10,824.16" stroke="#800000"/>
<path d="M137.70,397.00 L137.91,398.50 L138.13,400.00 L138.35,401.49 L138.57,402.99 L138.80,404.48 L139.04,405.98 L139.28,407.47 L139.42,408.30 M142.40,424.85 L142.49,425.34 L142.78,426.82 L143.08,428.30 L143.37,429.79 L143.67,431.27 L143.97,432.75 L144.27,434.24 L144.57,435.72 L144.77,436.65 M148.27,453.20 L148.33,453.48 L148.65,454.96 L148.97,456.44 L149.29,457.91 L149.61,459.39 L149.93,460.87 L150.25,462.35 L150.57,463.83 L150.82,465.00 M154.36,481.55 L154.37,481.58 L154.68,483.06 L154.99,484.54 L155.30,486.02 L155.61,487.50 L155.92,488.98 L156.22,490.46 L156.52,491.95 L156.81,493.35 M160.06,509.90 L160.32,511.24 L160.59,512.73 L160.87,514.22 L161.14,515.70 L161.42,517.19 L161.69,518.68 L161.95,520.17 L162.22,521.66 L162.23,521.70 M165.01,538.25 L165.22,539.56 L165.46,541.05 L165.69,542.55 L165.92,544.04 L166.15,545.54 L166.37,547.04 L166.60,548.53 L166.82,550.03 L166.82,550.05 M169.13,566.60 L169.31,568.01 L169.50,569.51 L169.70,571.01 L169.89,572.51 L170.08,574.01 L170.27,575.51 L170.45,577.01 L170.62,578.40 M172.58,594.95 L172.59,595.04 L172.76,596.54 L172.93,598.04 L173.10,599.55 L173.27,601.05 L173.44,602.55 L173.61,604.06 L173.78,605.56 L173.91,606.75 M175.81,623.30 L175.84,623.60 L176.02,625.10 L176.20,626.60" stroke="#800000"/>
<path d="M137.70,427.27 L138.07,428.73 L138.44,430.19 L138.81,431.65 L139.18,433.12 L139.55,434.58 L139.93,436.04 L140.31,437.50 L140.68,438.96 L141.06,440.42 L141.45,441.88 L141.83,443.34 L142.21,444.79 L142.60,446.25 L142.98,447.71 L143.37,449.17 L143.76,450.63 L144.15,452.08 L144.54,453.54 L144.94,455.00 L145.33,456.45 L145.73,457.91 L146.12,459.36 L146.52,460.82 L146.92,462.27 L147.32,463.73 L147.73,465.18 L148.13,466.63 L148.53,468.09 L148.94,469.54 L149.35,470.99 L149.75,472.44 L150.16,473.89 L150.57,475.35 L150.99,476.80 L151.40,478.25 L151.81,479.70 L152.23,481.15 L152.64,482.60 L153.06,484.05 L153.48,485.50 L153.90,486.94 L154.32,488.39 L154.74,489.84 L155.16,491.29 L155.59,492.74 L156.01,494.18 L156.44,495.63 L156.87,497.08 L157.29,498.52 L157.72,499.97 L158.15,501.42 L158.58,502.86 L159.02,504.31 L159.45,505.75 L159.88,507.20 L160.32,508.64 L160.75,510.08 L161.19,511.53 L161.63,512.97 L162.07,514.41 L162.51,515.86 L162.95,517.30 L163.39,518.74 L163.83,520.18 L164.28,521.63 L164.72,523.07 L165.17,524.51 L165.61,525.95 L166.06,527.39 L166.51,528.83 L166.96,530.27 L167.41,531.71 L167.86,533.15 L168.31,534.59 L168.76,536.03 L169.22,537.46 L169.67,538.90 L170.13,540.34 L170.59,541.78 L171.04,543.21 L171.50,544.65 L171.96,546.09 L172.42,547.52 L172.89,548.96 L173.35,550.40 L173.81,551.83 L174.28,553.27 L174.74,554.70 L175.21,556.13 L175.68,557.57 L176.15,559.00 L176.62,560.43 L177.09,561.87 L177.56,563.30 L178.03,564.73 L178.51,566.16 L178.98,567.60 L179.46,569.03 L179.94,570.46 L180.42,571.89 L180.90,573.32 L181.38,574.75 L181.86,576.18 L182.34,577.61 L182.83,579.03 L183.31,580.46 L183.80,581.89 L184.29,583.32 L184.78,584.74 L185.27,586.17 L185.76,587.60 L186.25,589.02 L186.75,590.45 L187.24,591.87 L187.74,593.29 L188.24,594.72 L188.74,596.14 L189.24,597.56 L189.74,598.99 L190.25,600.41 L190.75,601.83 L191.26,603.25 L191.77,604.67 L192.28,606.09 L192.79,607.51 L193.30,608.93 L193.82,610.34 L194.34,611.76 L194.85,613.18 L195.37,614.59 L195.89,616.01 L196.42,617.42 L196.94,618.84 L197.47,620.25 L198.00,621.66 L198.53,623.07 L199.06,624.49 L199.59,625.90 L200.13,627.31 L200.67,628.72 L201.21,630.12 L201.75,631.53 L202.29,632.94 L202.84,634.34 L203.39,635.75 L203.94,637.15 L204.49,638.56 L205.04,639.96 L205.60,641.36 L206.16,642.76 L206.72,644.16 L207.28,645.56 L207.85,646.96 L208.42,648.36 L208.99,649.76 L209.56,651.15 L210.14,652.54 L210.71,653.94 L211.29,655.33 L211.88,656.72 L212.46,658.11 L213.05,659.50 L213.64,660.89 L214.24,662.27 L214.84,663.66 L215.44,665.04 L216.04,666.43 L216.64,667.81 L217.25,669.19 L217.86,670.57 L218.48,671.94 L219.10,673.32 L219.72,674.69 L220.34,676.07 L220.97,677.44 L221.60,678.81 L222.24,680.18 L222.88,681.54 L223.52,682.91 L224.16,684.27 L224.81,685.63 L225.46,686.99 L226.12,688.35 L226.78,689.71 L227.44,691.06 L228.11,692.41 L228.78,693.76 L229.46,695.11 L230.14,696.46 L230.82,697.80 L231.51,699.14 L232.20,700.48 L232.90,701.82 L233.60,703.16 L234.31,704.49 L235.02,705.82 L235.73,707.15 L236.45,708.47 L237.18,709.80 L237.91,711.12 L238.64,712.44 L239.38,713.75 L240.12,715.06 L240.87,716.37 L241.63,717.68 L242.38,718.98 L243.15,720.28 L243.92,721.58 L244.69,722.87 L245.47,724.17 L246.26,725.45 L247.05,726.74 L247.85,728.02 L248.65,729.30 L249.46,730.57 L250.27,731.84 L251.09,733.11 L251.92,734.37 L252.75,735.63 L253.58,736.88 L254.43,738.13 L255.28,739.38 L256.13,740.62 L256.99,741.86 L257.86,743.09 L258.74,744.32 L259.62,745.55 L260.50,746.77 L261.40,747.98 L262.29,749.19 L263.20,750.40 L264.11,751.60 L265.03,752.80 L265.95,753.99 L266.88,755.18 L267.82,756.36 L268.77,757.54 L269.71,758.71 L270.67,759.87 L271.63,761.04 L272.60,762.19 L273.58,763.34 L274.56,764.49 L275.54,765.63 L276.54,766.76 L277.54,767.89 L278.54,769.02 L279.55,770.14 L280.57,771.25 L281.59,772.36 L282.62,773.47 L283.65,774.57 L284.69,775.66 L285.73,776.75 L286.78,777.83 L287.84,778.91 L288.90,779.98 L289.96,781.05 L291.03,782.12 L292.10,783.18 L293.18,784.23 L294.26,785.28 L295.35,786.33 L296.44,787.37 L297.53,788.41 L298.63,789.45 L299.73,790.48 L300.84,791.50 L301.94,792.53 L303.05,793.55 L304.17,794.57 L305.28,795.58 L306.40,796.59 L307.52,797.60 L308.65,798.61 L309.77,799.61 L310.90,800.61" stroke="#008000"/>
<path d="M137.71,393.00 L138.09,394.46 L138.49,395.92 L138.89,397.37 L139.30,398.83 L139.73,400.27 L140.16,401.72 L140.60,403.17 L140.95,404.30 M146.62,420.85 L146.95,421.74 L147.48,423.15 L148.01,424.57 L148.55,425.98 L149.09,427.39 L149.63,428.80 L150.18,430.20 L150.73,431.61 L151.14,432.65 M157.88,449.20 L158.12,449.79 L158.70,451.19 L159.28,452.58 L159.86,453.98 L160.45,455.37 L161.03,456.76 L161.61,458.16 L162.20,459.55 L162.78,460.94 L162.80,461.00 M169.69,477.55 L169.74,477.67 L170.31,479.07 L170.88,480.47 L171.45,481.87 L172.02,483.27 L172.59,484.67 L173.15,486.07 L173.71,487.47 L174.27,488.87 L174.47,489.35 M180.85,505.90 L181.33,507.19 L181.85,508.61 L182.37,510.02 L182.88,511.44 L183.40,512.86 L183.90,514.29 L184.41,515.71 L184.91,517.13 L185.11,517.70 M190.60,534.25 L190.62,534.33 L191.07,535.77 L191.52,537.21 L191.96,538.66 L192.40,540.10 L192.83,541.55 L193.26,543.00 L193.69,544.45 L194.11,545.90 L194.15,546.05 M198.61,562.60 L198.81,563.39 L199.18,564.86 L199.54,566.33 L199.89,567.79 L200.25,569.26 L200.60,570.73 L200.94,572.20 L201.28,573.67 L201.45,574.40 M205.01,590.95 L205.09,591.39 L205.39,592.87 L205.69,594.35 L205.98,595.83 L206.27,597.31 L206.55,598.79 L206.84,600.28 L207.12,601.76 L207.31,602.75 M210.34,619.30 L210.39,619.58 L210.66,621.07 L210.92,622.56 L211.19,624.04 L211.46,625.53 L211.73,627.01 L212.00,628.50" stroke="#008000"/>
</g>
<g font-family="'Liberation Sans', sans-serif" fill="#000" stroke="#000" stroke-width="0.3" stroke-linejoin="round"><text x="116.6" y="874.3" font-size="25.3" text-anchor="end">0.0</text><text x="116.6" y="749.6" font-size="25.3" text-anchor="end">0.2</text><text x="116.6" y="624.9" font-size="25.3" text-anchor="end">0.4</text><text x="116.6" y="500.2" font-size="25.3" text-anchor="end">0.6</text><text x="116.6" y="375.5" font-size="25.3" text-anchor="end">0.8</text><text x="116.6" y="250.8" font-size="25.3" text-anchor="end" clip-path="url(#o0)">1.0</text><text x="137.2" y="908.2" font-size="25.3" text-anchor="middle">0.0</text><text x="338.35" y="908.2" font-size="25.3" text-anchor="middle" clip-path="url(#o1)">0.1</text><text x="539.5" y="908.2" font-size="25.3" text-anchor="middle">0.2</text><text x="740.65" y="908.2" font-size="25.3" text-anchor="middle">0.3</text><text x="574.30" y="613.7" font-size="27.6"><tspan font-style="italic">k</tspan> = 4</text><text x="547.50" y="730.7" font-size="27.6"><tspan font-style="italic">k</tspan> = 8</text><text x="392.90" y="784.8" font-size="27.6" clip-path="url(#o2)"><tspan font-style="italic">k</tspan> = 16</text><text x="285.90" y="823.7" font-size="27.6"><tspan font-style="italic">k</tspan> = 32</text><text x="191.10" y="850.6" font-size="27.6"><tspan font-style="italic">k</tspan> = 64</text><text x="551.9" y="957.3" font-size="30" text-anchor="start" font-style="italic">d</text><g transform="translate(31.7,585.3) rotate(-90)"><text x="0" y="0" font-size="30.8" font-style="italic">p</text><text x="17.4" y="12.2" font-size="17.8">s</text></g></g>
<defs><clipPath id="o0"><path clip-rule="evenodd" d="M-50,-50H900V1100H-50Z M82.36,247.61H87.65V252.30H82.36Z M90.18,247.61H95.27V252.30H90.18Z"/></clipPath><clipPath id="o1"><path clip-rule="evenodd" d="M-50,-50H900V1100H-50Z M342.79,905.01H348.08V909.70H342.79Z M350.61,905.01H355.70V909.70H350.61Z"/></clipPath><clipPath id="o2"><path clip-rule="evenodd" d="M-50,-50H900V1100H-50Z M439.27,781.44H444.95V786.30H439.27Z M447.69,781.44H453.17V786.30H447.69Z"/></clipPath></defs>
</svg>
</body></html>
